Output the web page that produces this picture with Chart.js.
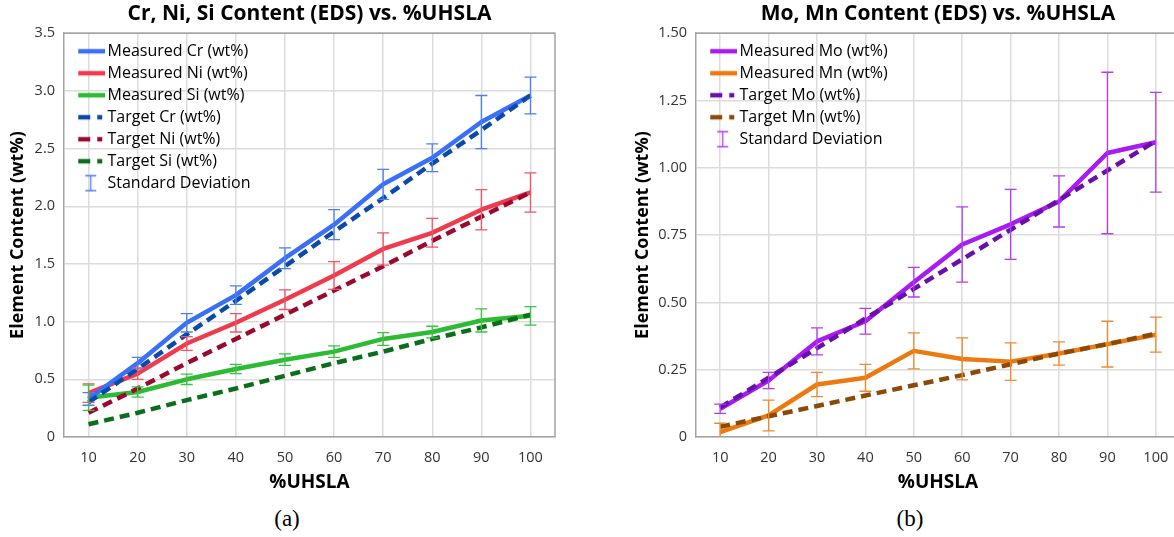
<!DOCTYPE html>
<html>
<head>
<meta charset="utf-8">
<script src="https://cdn.jsdelivr.net/npm/chart.js@4"></script>
<style>
html, body { margin: 0; padding: 0; background: #fff; overflow: hidden; width: 1174px; height: 537px; }
.box { position: absolute; top: 0; height: 500px; width: 600px; }
#boxA { left: 0; }
#boxB { left: 625px; }
.cap { position: absolute; top: 507px; font-family: "Liberation Serif", serif; font-size: 23px; line-height: 1; color: #000; transform: translateX(-50%); }
</style>
</head>
<body>
<div class="box" id="boxA"><canvas id="chartA"></canvas></div>
<div class="box" id="boxB"><canvas id="chartB"></canvas></div>
<div class="cap" style="left:287px">(a)</div>
<div class="cap" style="left:910px">(b)</div>
<script>
// x categories (%UHSLA)
const pctUHSLA = ['10', '20', '30', '40', '50', '60', '70', '80', '90', '100'];

// (a) Cr, Ni, Si
const measCr = [0.33, 0.64, 0.99, 1.23, 1.55, 1.84, 2.19, 2.42, 2.73, 2.96];
const sdCr   = [0.055, 0.05, 0.08, 0.08, 0.09, 0.13, 0.13, 0.12, 0.23, 0.16];
const measNi = [0.38, 0.55, 0.81, 0.99, 1.19, 1.40, 1.63, 1.77, 1.97, 2.12];
const sdNi   = [0.08, 0.05, 0.06, 0.08, 0.085, 0.12, 0.14, 0.125, 0.175, 0.17];
const measSi = [0.34, 0.39, 0.50, 0.59, 0.67, 0.74, 0.85, 0.91, 1.01, 1.05];
const sdSi   = [0.11, 0.045, 0.045, 0.04, 0.05, 0.05, 0.055, 0.05, 0.10, 0.08];
const targCr = [0.30, 0.59, 0.89, 1.18, 1.48, 1.78, 2.07, 2.37, 2.66, 2.96];
const targNi = [0.21, 0.42, 0.64, 0.85, 1.06, 1.27, 1.48, 1.70, 1.91, 2.12];
const targSi = [0.11, 0.21, 0.32, 0.42, 0.53, 0.64, 0.74, 0.85, 0.95, 1.06];
const yTicksA = ['0', '0.5', '1.0', '1.5', '2.0', '2.5', '3.0', '3.5'];

// (b) Mo, Mn
const measMo = [0.105, 0.21, 0.355, 0.43, 0.575, 0.715, 0.79, 0.875, 1.055, 1.095];
const sdMo   = [0.017, 0.03, 0.05, 0.048, 0.055, 0.14, 0.13, 0.095, 0.30, 0.185];
const measMn = [0.018, 0.08, 0.195, 0.22, 0.32, 0.29, 0.28, 0.31, 0.345, 0.38];
const sdMn   = [0.033, 0.057, 0.045, 0.05, 0.067, 0.078, 0.07, 0.043, 0.085, 0.065];
const targMo = [0.11, 0.22, 0.33, 0.44, 0.55, 0.66, 0.77, 0.88, 0.99, 1.10];
const targMn = [0.038, 0.077, 0.115, 0.154, 0.192, 0.23, 0.27, 0.31, 0.345, 0.384];
const yTicksB = ['0', '0.25', '0.50', '0.75', '1.00', '1.25', '1.50'];

const FONT = '"Open Sans", "Noto Sans", sans-serif';
const GRID = '#dcdcdc';
const AXIS = '#a3a3a3';
const DASH = [10, 6];

// small canvases used as legend symbols
function lineIcon(color, dashed) {
	var c = document.createElement('canvas');
	c.width = 41; c.height = 8;
	var g = c.getContext('2d');
	g.strokeStyle = color;
	g.lineWidth = 4.5;
	if (dashed) g.setLineDash([12, 7]);
	g.beginPath();
	g.moveTo(14, 4);
	g.lineTo(dashed ? 38 : 41, 4);
	g.stroke();
	return c;
}

function errIcon(color) {
	var c = document.createElement('canvas');
	c.width = 41; c.height = 18;
	var g = c.getContext('2d');
	g.strokeStyle = color;
	g.lineWidth = 1.3;
	g.beginPath();
	g.moveTo(26.5, 1); g.lineTo(26.5, 17);
	g.moveTo(21, 1.5); g.lineTo(32, 1.5);
	g.moveTo(21, 16.5); g.lineTo(32, 16.5);
	g.stroke();
	return c;
}

function measured(label, data, errors, color, errColor) {
	return { label: label, data: data, errors: errors, errorColor: errColor, borderColor: color,
		backgroundColor: color, borderWidth: 4.5, pointRadius: 0, tension: 0,
		borderJoinStyle: 'round', order: 1 };
}

function target(label, data, color) {
	return { label: label, data: data, borderColor: color, backgroundColor: color,
		borderWidth: 4.5, borderDash: DASH, pointRadius: 0, tension: 0, order: 0 };
}

// draws the standard deviation bars through the chart scales
const errorBars = {
	id: 'errorBars',
	afterDatasetsDraw(chart) {
		const ctx = chart.ctx, a = chart.chartArea;
		const x = chart.scales.x, y = chart.scales.y;
		ctx.save();
		ctx.beginPath();
		ctx.rect(a.left, a.top - 1, a.right - a.left, a.bottom - a.top + 1);
		ctx.clip();
		chart.data.datasets.forEach(ds => {
			if (!ds.errors) return;
			ctx.strokeStyle = ds.errorColor;
			ctx.lineWidth = 1.3;
			ds.data.forEach((v, i) => {
				const px = x.getPixelForValue(i);
				const top = y.getPixelForValue(v + ds.errors[i]);
				const bot = y.getPixelForValue(v - ds.errors[i]);
				ctx.beginPath();
				ctx.moveTo(px, top); ctx.lineTo(px, bot);
				ctx.moveTo(px - 6, top); ctx.lineTo(px + 6, top);
				ctx.moveTo(px - 6, bot); ctx.lineTo(px + 6, bot);
				ctx.stroke();
			});
		});
		ctx.restore();
	}
};

// top and right edges of the plot frame
const frame = {
	id: 'frame',
	beforeDatasetsDraw(chart) {
		const ctx = chart.ctx, a = chart.chartArea;
		ctx.save();
		ctx.strokeStyle = AXIS;
		ctx.lineWidth = 1.5;
		ctx.beginPath();
		ctx.moveTo(a.left, a.top);
		ctx.lineTo(a.right, a.top);
		ctx.lineTo(a.right, a.bottom);
		ctx.stroke();
		ctx.restore();
	}
};

// the chartArea legend gets top = 0 from its own update, move it into the plot
const legendInside = {
	id: 'legendInside',
	afterLayout(chart) {
		const l = chart.legend;
		l.top = chart.chartArea.top + 4;
		l.bottom = l.top + l.height;
	}
};

function makeChart(id, title, datasets, errColor, yMax, yStep, yTicks, yWidth) {
	return new Chart(document.getElementById(id), {
		type: 'line',
		data: { labels: pctUHSLA, datasets: datasets },
		plugins: [frame, errorBars, legendInside],
		options: {
			responsive: true,
			maintainAspectRatio: false,
			animation: false,
			layout: { padding: { left: 0, right: 45, top: 0, bottom: 0 } },
			plugins: {
				title: {
					display: true, text: title, fullSize: false, color: '#000',
					font: { family: FONT, size: 21, weight: 'bold' },
					padding: { top: 1, bottom: 7 }
				},
				legend: {
					position: 'chartArea',
					align: 'start',
					labels: {
						usePointStyle: true,
						pointStyleWidth: 29.5,
						padding: 6,
						color: '#262626',
						font: { family: FONT, size: 16 },
						generateLabels: chart => {
							const items = chart.data.datasets.map((ds, i) => ({
								text: ds.label, datasetIndex: i, hidden: false,
								pointStyle: lineIcon(ds.borderColor, !!ds.borderDash),
								fillStyle: ds.borderColor, strokeStyle: ds.borderColor, lineWidth: 0
							}));
							items.push({ text: 'Standard Deviation', hidden: false, pointStyle: errIcon(errColor),
								fillStyle: errColor, strokeStyle: errColor, lineWidth: 0 });
							return items;
						}
					}
				},
				tooltip: { enabled: false }
			},
			scales: {
				x: {
					offset: true,
					afterFit: s => { s.height = 63; },
					grid: { color: GRID, lineWidth: 1.5, drawTicks: false },
					border: { color: AXIS, width: 1.5 },
					ticks: { color: '#333', padding: 12, font: { family: FONT, size: 14.5 } },
					title: { display: true, text: '%UHSLA', color: '#000',
						font: { family: FONT, size: 19, weight: 'bold' }, padding: { top: 6, bottom: 6 } }
				},
				y: {
					min: 0, max: yMax,
					afterFit: s => { s.width = yWidth; },
					grid: { color: GRID, lineWidth: 1.5, drawTicks: false },
					border: { color: AXIS, width: 1.5 },
					ticks: { stepSize: yStep, color: '#333', padding: 9, font: { family: FONT, size: 14.5 },
						callback: (v, i) => yTicks[i] },
					title: { display: true, text: 'Element Content (wt%)', color: '#000',
						font: { family: FONT, size: 18, weight: 'bold' }, padding: { top: 7, bottom: 0 } }
				}
			}
		}
	});
}

makeChart('chartA', 'Cr, Ni, Si Content (EDS) vs. %UHSLA', [
	measured('Measured Cr (wt%)', measCr, sdCr, '#3A6FF7', '#4A7FF6'),
	measured('Measured Ni (wt%)', measNi, sdNi, '#EE3B4E', '#EF5565'),
	measured('Measured Si (wt%)', measSi, sdSi, '#2DBB34', '#3BC343'),
	target('Target Cr (wt%)', targCr, '#0B4AA8'),
	target('Target Ni (wt%)', targNi, '#9B0A2E'),
	target('Target Si (wt%)', targSi, '#0B6E1A')
], '#4A7FF6', 3.5, 0.5, yTicksA, 64);

makeChart('chartB', 'Mo, Mn Content (EDS) vs. %UHSLA', [
	measured('Measured Mo (wt%)', measMo, sdMo, '#A81BF2', '#B23CF5'),
	measured('Measured Mn (wt%)', measMn, sdMn, '#EC7A0E', '#EE8A2E'),
	target('Target Mo (wt%)', targMo, '#6A0FA8'),
	target('Target Mn (wt%)', targMn, '#8B4A08')
], '#B23CF5', 1.5, 0.25, yTicksB, 71);
</script>
</body>
</html>
